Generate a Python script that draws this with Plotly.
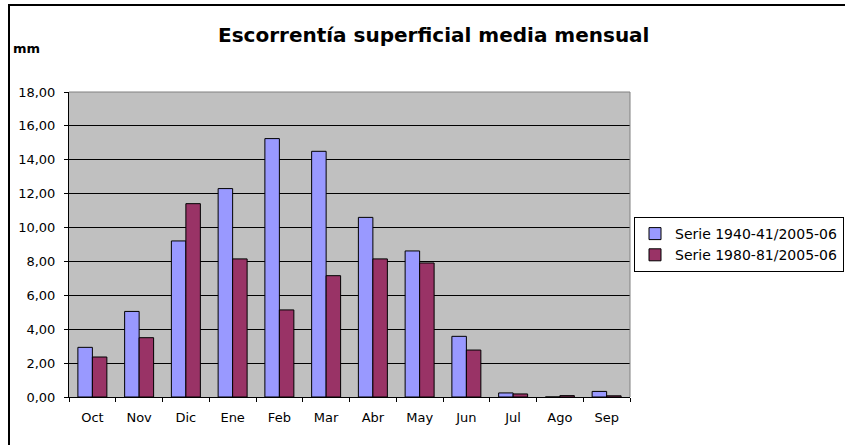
import plotly.graph_objects as go

months = ["Oct", "Nov", "Dic", "Ene", "Feb", "Mar", "Abr", "May", "Jun", "Jul", "Ago", "Sep"]
serie_1940 = [2.93, 5.05, 9.21, 12.30, 15.25, 14.50, 10.60, 8.62, 3.58, 0.24, 0.00, 0.33]
serie_1980 = [2.36, 3.50, 11.41, 8.15, 5.14, 7.16, 8.15, 7.91, 2.77, 0.18, 0.08, 0.07]
name_1940 = "Serie 1940-41/2005-06"
name_1980 = "Serie 1980-81/2005-06"
y_ticks = [0, 2, 4, 6, 8, 10, 12, 14, 16, 18]

W, H = 845, 445
L, R, T, B = 69, 630, 92, 397

def px(x):
    return (x - L) / (R - L)

def py(y):
    return (B - y) / (B - T)

FONT = "DejaVu Sans, Arial"

fig = go.Figure()
fig.add_trace(go.Bar(x=months, y=serie_1940, name=name_1940,
                     marker=dict(color="#9999FF", line=dict(color="black", width=1))))
fig.add_trace(go.Bar(x=months, y=serie_1980, name=name_1980,
                     marker=dict(color="#993366", line=dict(color="black", width=1))))

fig.update_layout(
    width=W, height=H,
    margin=dict(l=L, r=W - R, t=T, b=H - B, pad=0, autoexpand=False),
    paper_bgcolor="white", plot_bgcolor="#C0C0C0",
    barmode="group", bargap=0.38, bargroupgap=0,
    separators=",.",
    font=dict(family=FONT, size=12.5, color="black"),
    showlegend=True,
    legend=dict(x=px(634), y=py(217), xanchor="left", yanchor="top",
                bordercolor="black", borderwidth=1, bgcolor="white",
                font=dict(size=14, family=FONT), tracegroupgap=0, itemwidth=30),
    xaxis=dict(showgrid=False, ticks="outside", tickson="boundaries", ticklen=4,
               tickcolor="black", showline=True, linecolor="black", linewidth=1,
               tickfont=dict(size=13, family=FONT), ticklabelstandoff=8,
               fixedrange=True),
    yaxis=dict(range=[0, 18], tickvals=y_ticks, tickformat=".2f", ticks="outside",
               ticklen=4, tickcolor="black", showline=True, linecolor="black",
               linewidth=1, gridcolor="black", gridwidth=1, zeroline=False,
               tickfont=dict(size=13, family=FONT), ticklabelstandoff=6,
               fixedrange=True),
)

# plot-area top and right border (gray)
fig.add_shape(type="line", xref="paper", yref="paper", x0=0, x1=1, y0=1, y1=1,
              line=dict(color="#808080", width=1))
fig.add_shape(type="line", xref="paper", yref="paper", x0=1, x1=1, y0=0, y1=1,
              line=dict(color="#808080", width=1))
# chart outer frame
fig.add_shape(type="rect", xref="paper", yref="paper",
              x0=px(9), x1=px(860), y0=py(460), y1=py(5),
              line=dict(color="black", width=2), layer="below")

fig.add_annotation(text="<b>Escorrentía superficial media mensual</b>",
                   xref="paper", yref="paper", x=px(433), y=py(35),
                   showarrow=False, font=dict(size=20, color="black", family=FONT),
                   xanchor="center", yanchor="middle")
fig.add_annotation(text="<b>mm</b>", xref="paper", yref="paper",
                   x=px(11), y=py(49), showarrow=False,
                   font=dict(size=13, color="black", family=FONT),
                   xanchor="left", yanchor="middle")

fig.write_html("out.html", config={"displayModeBar": False},
               post_script="document.body.style.margin='0';document.body.style.overflow='hidden';")
